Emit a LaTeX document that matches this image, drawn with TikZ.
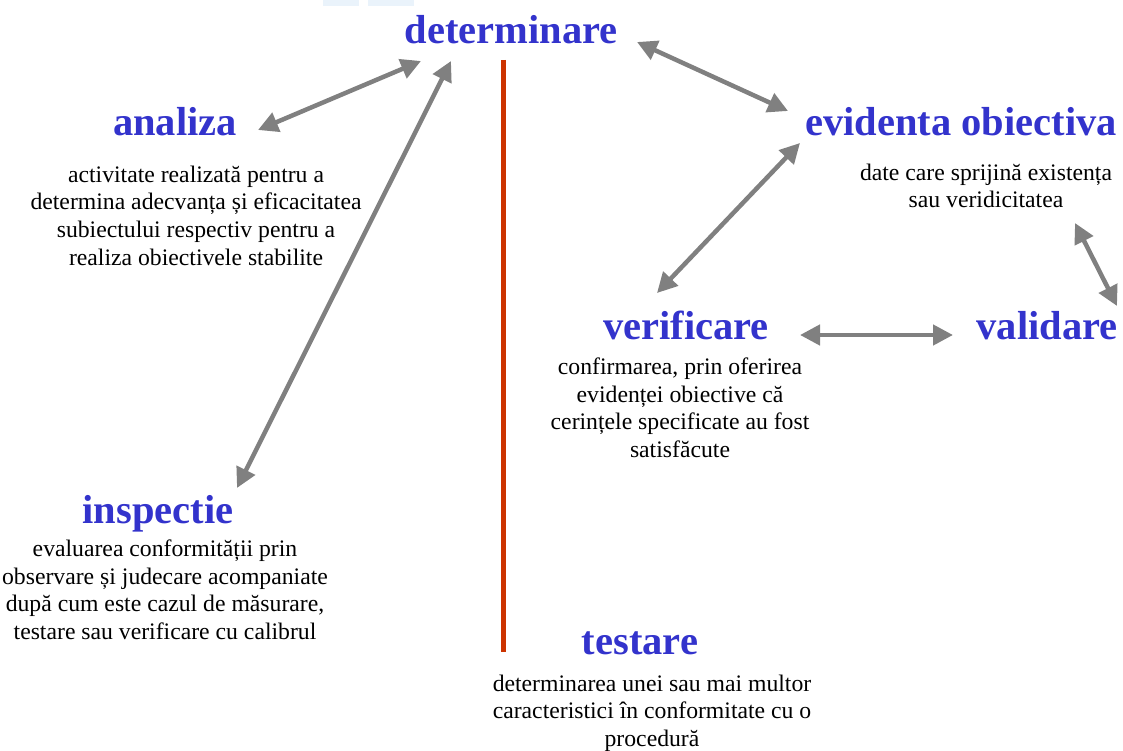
\documentclass[tikz,border=0pt]{standalone}
\usepackage{fontspec}
\setmainfont{Liberation Serif}
\usetikzlibrary{arrows.meta}
\definecolor{termblue}{RGB}{51,51,204}
\definecolor{linkgray}{RGB}{128,128,128}
\definecolor{divred}{RGB}{204,51,0}
\definecolor{paleblue}{RGB}{234,243,251}
\begin{document}
\begin{tikzpicture}[x=1pt,y=-1pt,
  term/.style={anchor=base, inner sep=0pt, text=termblue,
    font=\bfseries\fontsize{40.5}{48}\selectfont},
  % multi-line definitions are placed by the baseline of their last line
  gloss/.style={anchor=base, inner sep=0pt, align=center, text=black,
    font=\fontsize{23.7}{27.5}\selectfont},
  link/.style={draw=linkgray, line width=4.5pt,
    {Triangle[length=20pt,width=20pt]}-{Triangle[length=20pt,width=20pt]}},
  divider/.style={draw=divred, line width=5pt}]
\useasboundingbox (0,0) rectangle (1123,751);
\clip (0,0) rectangle (1123,751);

% faint header marks
\fill[paleblue] (323,0) rectangle (359,6);
\fill[paleblue] (368,0) rectangle (414,6);

% terms
\node[term] (det) at (511,44) {determinare};
\node[term] (ana) at (175,136) {analiza};
\node[term] (evi) at (961,136) {evidenta obiectiva};
\node[term] (ver) at (686,339) {verificare};
\node[term] (val) at (1047,339) {validare};
\node[term] (ins) at (158,523) {inspectie};
\node[term] (tes) at (640,654) {testare};

% definitions
\node[gloss] (anaD) at (196,265) {activitate realizată pentru a\\determina adecvanța și eficacitatea\\subiectului respectiv pentru a\\realiza obiectivele stabilite};
\node[gloss] (eviD) at (986,208) {date care sprijină existența\\sau veridicitatea};
\node[gloss] (verD) at (680,457) {confirmarea, prin oferirea\\evidenței obiective că\\cerințele specificate au fost\\satisfăcute};
\node[gloss] (insD) at (165,639) {evaluarea conformității prin\\observare și judecare acompaniate\\după cum este cazul de măsurare,\\testare sau verificare cu calibrul};
\node[gloss] (tesD) at (652,746) {determinarea unei sau mai multor\\caracteristici în conformitate cu o\\procedură};

% divider
\coordinate (divTop) at (503,60);
\coordinate (divBot) at (503,652);
\draw[divider] (divTop) -- (divBot);

% connector end points
\coordinate (detL) at (421,61);
\coordinate (anaR) at (258,130);
\coordinate (detLL) at (451,61);
\coordinate (insT) at (237,488);
\coordinate (detR) at (637,42);
\coordinate (eviL) at (788,111);
\coordinate (eviB) at (800,143);
\coordinate (verT) at (657,293);
\coordinate (verR) at (800,335);
\coordinate (valL) at (953,335);
\coordinate (eviDB) at (1075,223);
\coordinate (valT) at (1117,306);

% connectors
\draw[link] (anaR) -- (detL);
\draw[link] (insT) -- (detLL);
\draw[link] (detR) -- (eviL);
\draw[link] (verT) -- (eviB);
\draw[link] (verR) -- (valL);
\draw[link] (eviDB) -- (valT);
\end{tikzpicture}
\end{document}
